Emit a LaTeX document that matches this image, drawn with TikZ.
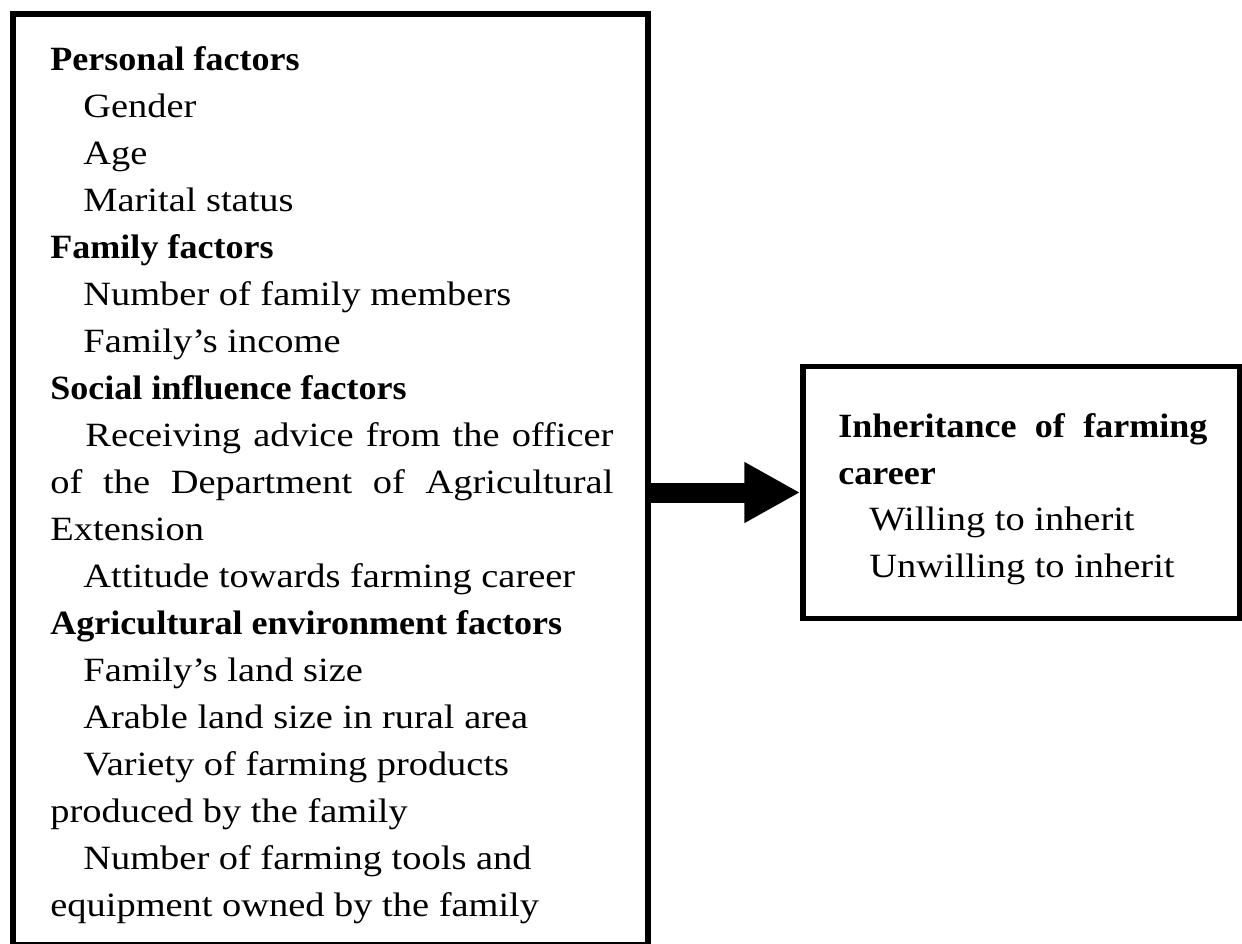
\documentclass[tikz,border=0pt]{standalone}
\usepackage{fontspec}
\setmainfont{Liberation Serif}[FakeStretch=1.13, BoldFeatures={FakeStretch=1.06}]
\usetikzlibrary{arrows.meta}
\newcommand{\diagsize}{\fontsize{17pt}{20pt}\selectfont}
\tikzset{
  box/.style={draw=black, line width=2.75pt, inner sep=0pt, fill=white},
  txt/.style={anchor=base west, inner sep=0pt, text=black, font=\diagsize},
  head/.style={txt, font=\diagsize\bfseries},
  bigarrow/.style={draw=black, line width=10pt, -{Triangle[length=28pt,width=28.5pt]}}
}
\begin{document}
\begin{tikzpicture}[x=0.5pt, y=-0.5pt]
\useasboundingbox (0,0) rectangle (1242,943);
% boxes
\node[box, minimum width=317.5pt, minimum height=465.5pt] (left) at (330.5,479.5) {};
\node[box, minimum width=218.5pt, minimum height=126pt] (right) at (1021.5,492.5) {};
% arrow
\draw[bigarrow] (right.west -| left.east) -- (right.west);
% left text
\node[head] (l0) at (50,70) {Personal factors};
\node[txt] (l1) at (83,117) {Gender};
\node[txt] (l2) at (83,164) {Age};
\node[txt] (l3) at (83,211) {Marital status};
\node[head] (l4) at (50,258) {Family factors};
\node[txt] (l5) at (83,305) {Number of family members};
\node[txt] (l6) at (83,352) {Family’s income};
\node[head] (l7) at (50,399) {Social influence factors};
\node[txt] (l8) at (85,446) {\makebox[264pt][s]{Receiving advice from the officer}};
\node[txt] (l9) at (50,493) {\makebox[281.5pt][s]{of the Department of Agricultural}};
\node[txt] (l10) at (50,540) {Extension};
\node[txt] (l11) at (83,587) {Attitude towards farming career};
\node[head] (l12) at (50,634) {Agricultural environment factors};
\node[txt] (l13) at (83,681) {Family’s land size};
\node[txt] (l14) at (83,728) {Arable land size in rural area};
\node[txt] (l15) at (83,775) {Variety of farming products};
\node[txt] (l16) at (50,822) {produced by the family};
\node[txt] (l17) at (83,869) {Number of farming tools and};
\node[txt] (l18) at (50,916) {equipment owned by the family};
% right text
\node[head] (r0) at (838,437) {\makebox[184.5pt][s]{Inheritance of farming}};
\node[head] (r1) at (838,484) {career};
\node[txt] (r2) at (869,530) {Willing to inherit};
\node[txt] (r3) at (869,577) {Unwilling to inherit};
\end{tikzpicture}
\end{document}
